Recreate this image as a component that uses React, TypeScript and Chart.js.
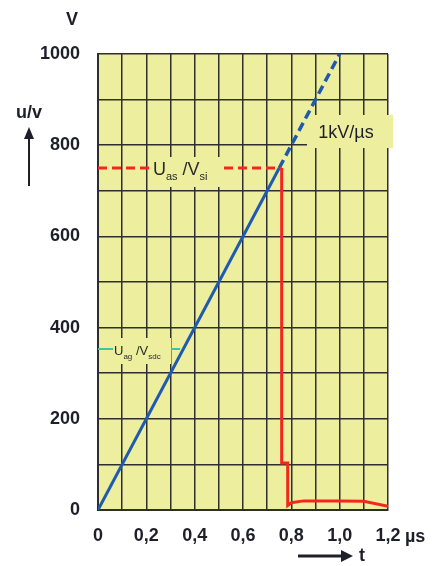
import React, { useEffect, useRef } from "react";
import { Chart, registerables } from "chart.js";

Chart.register(...registerables);

// time axis (µs)
const xTicksMax = 1.2;
const yTicksMax = 1000;

// Blue ramp 1 kV/µs
const blueSolidX = [0, 0.75];
const blueSolidY = [0, 750];
const blueDashX = [0.75, 1.0];
const blueDashY = [750, 1000];

// Red: threshold dashed line and actual voltage
const redDashX = [0, 0.76];
const redDashY = [750, 750];
const redX = [0.76, 0.76, 0.785, 0.785, 0.8, 0.85, 1.0, 1.1, 1.2];
const redY = [750, 103, 103, 10, 16, 20, 20, 19, 8];

// Teal marker line
const tealX = [0, 0.34];
const tealY = [353, 353];

const YELLOW = "#edef9f";
const FONT = "'Liberation Sans', Arial, sans-serif";
const TXT = "#1f1f2a";

const pts = (xs: number[], ys: number[]) => xs.map((x, i) => ({ x, y: ys[i] }));

function drawSub(ctx: CanvasRenderingContext2D, x: number, y: number, parts: [string, string][], big: number, small: number, color: string) {
  ctx.save();
  ctx.fillStyle = color;
  ctx.textAlign = "left";
  ctx.textBaseline = "alphabetic";
  let cx = x;
  for (const [t, s] of parts) {
    ctx.font = `${big}px ${FONT}`;
    ctx.fillText(t, cx, y);
    cx += ctx.measureText(t).width;
    ctx.font = `${small}px ${FONT}`;
    ctx.fillText(s, cx, y + big * 0.28);
    cx += ctx.measureText(s).width;
  }
  ctx.restore();
}

const annot = {
  id: "annot",
  beforeDraw(chart: any) {
    const { ctx, chartArea: a } = chart;
    ctx.save();
    ctx.fillStyle = YELLOW;
    ctx.fillRect(a.left, a.top, a.right - a.left, a.bottom - a.top);
    ctx.restore();
  },
  beforeDatasetsDraw(chart: any) {
    const { ctx } = chart;
    ctx.save();
    ctx.fillStyle = YELLOW;
    ctx.fillRect(307, 115, 86, 33);
    ctx.fillStyle = TXT;
    ctx.font = `18px ${FONT}`;
    ctx.textAlign = "center";
    ctx.textBaseline = "middle";
    ctx.fillText("1kV/µs", 346, 133);
    ctx.restore();
  },
  afterDatasetsDraw(chart: any) {
    const { ctx } = chart;
    ctx.save();
    ctx.fillStyle = YELLOW;
    ctx.fillRect(150, 157, 70, 30);
    ctx.fillRect(113, 338, 58, 26);
    ctx.restore();
    drawSub(ctx, 153, 175, [["U", "as"], [" /V", "si"]], 18, 11, "#2a2a2a");
    drawSub(ctx, 114, 355, [["U", "ag"], [" /V", "sdc"]], 13, 8, "#2a2a2a");

    ctx.save();
    ctx.fillStyle = TXT;
    ctx.strokeStyle = TXT;
    ctx.font = `bold 18px ${FONT}`;
    ctx.textAlign = "center";
    ctx.textBaseline = "middle";
    ctx.fillText("V", 72, 20);
    ctx.fillText("u/v", 29, 113);
    ctx.fillText("t", 362, 556);
    ctx.textAlign = "left";
    ctx.fillText("µs", 405, 537);
    // up arrow
    ctx.lineWidth = 2;
    ctx.beginPath();
    ctx.moveTo(29, 186);
    ctx.lineTo(29, 136);
    ctx.stroke();
    ctx.beginPath();
    ctx.moveTo(29, 127);
    ctx.lineTo(24, 139);
    ctx.lineTo(34, 139);
    ctx.closePath();
    ctx.fill();
    // right arrow
    ctx.lineWidth = 3;
    ctx.beginPath();
    ctx.moveTo(298, 556);
    ctx.lineTo(344, 556);
    ctx.stroke();
    ctx.beginPath();
    ctx.moveTo(353, 556);
    ctx.lineTo(341, 550);
    ctx.lineTo(341, 562);
    ctx.closePath();
    ctx.fill();
    ctx.restore();
  },
};

export default function App() {
  const ref = useRef<HTMLCanvasElement | null>(null);
  useEffect(() => {
    if (!ref.current) return;
    const chart = new Chart(ref.current, {
      type: "scatter",
      data: {
        datasets: [
          { data: pts(tealX, tealY), showLine: true, borderColor: "#3cc6a4", borderWidth: 2, pointRadius: 0 },
          { data: pts(redDashX, redDashY), showLine: true, borderColor: "#f2281e", borderWidth: 3, borderDash: [9, 5], pointRadius: 0 },
          { data: pts(redX, redY), showLine: true, borderColor: "#f2281e", borderWidth: 3, pointRadius: 0 },
          { data: pts(blueSolidX, blueSolidY), showLine: true, borderColor: "#1e5bb0", borderWidth: 3, pointRadius: 0 },
          { data: pts(blueDashX, blueDashY), showLine: true, borderColor: "#1e5bb0", borderWidth: 3.5, borderDash: [9, 5], pointRadius: 0 },
        ],
      },
      options: {
        animation: false,
        responsive: false,
        maintainAspectRatio: false,
        layout: { padding: { top: 54, right: 46, left: 0, bottom: 0 } },
        plugins: { legend: { display: false }, tooltip: { enabled: false } },
        scales: {
          x: {
            type: "linear",
            min: 0,
            max: xTicksMax,
            afterFit: (s: any) => { s.height = 56; },
            ticks: {
              stepSize: 0.1,
              autoSkip: false,
              maxRotation: 0,
              padding: 15,
              color: TXT,
              font: { family: FONT, size: 18, weight: "bold" },
              callback: (v: any) => {
                const n = Math.round(Number(v) * 10);
                if (n % 2 !== 0) return "";
                return n === 0 ? "0" : (n / 10).toFixed(1).replace(".", ",");
              },
            },
            grid: { color: "#2e2e2e", lineWidth: 1.5, drawTicks: false },
            border: { color: "#2e2e2e", width: 2 },
          },
          y: {
            min: 0,
            max: yTicksMax,
            afterFit: (s: any) => { s.width = 98; },
            ticks: {
              stepSize: 100,
              autoSkip: false,
              padding: 18,
              color: TXT,
              font: { family: FONT, size: 18, weight: "bold" },
              callback: (v: any) => (Math.round(Number(v)) % 200 === 0 ? String(Math.round(Number(v))) : ""),
            },
            grid: { color: "#2e2e2e", lineWidth: 1.5, drawTicks: false },
            border: { color: "#2e2e2e", width: 2 },
          },
        },
      },
      plugins: [annot],
    });
    return () => chart.destroy();
  }, []);
  return (
    <div style={{ position: "absolute", left: 0, top: 0, width: 434, height: 566, background: "#fff" }}>
      <canvas ref={ref} width={434} height={566} style={{ width: 434, height: 566 }} />
    </div>
  );
}
